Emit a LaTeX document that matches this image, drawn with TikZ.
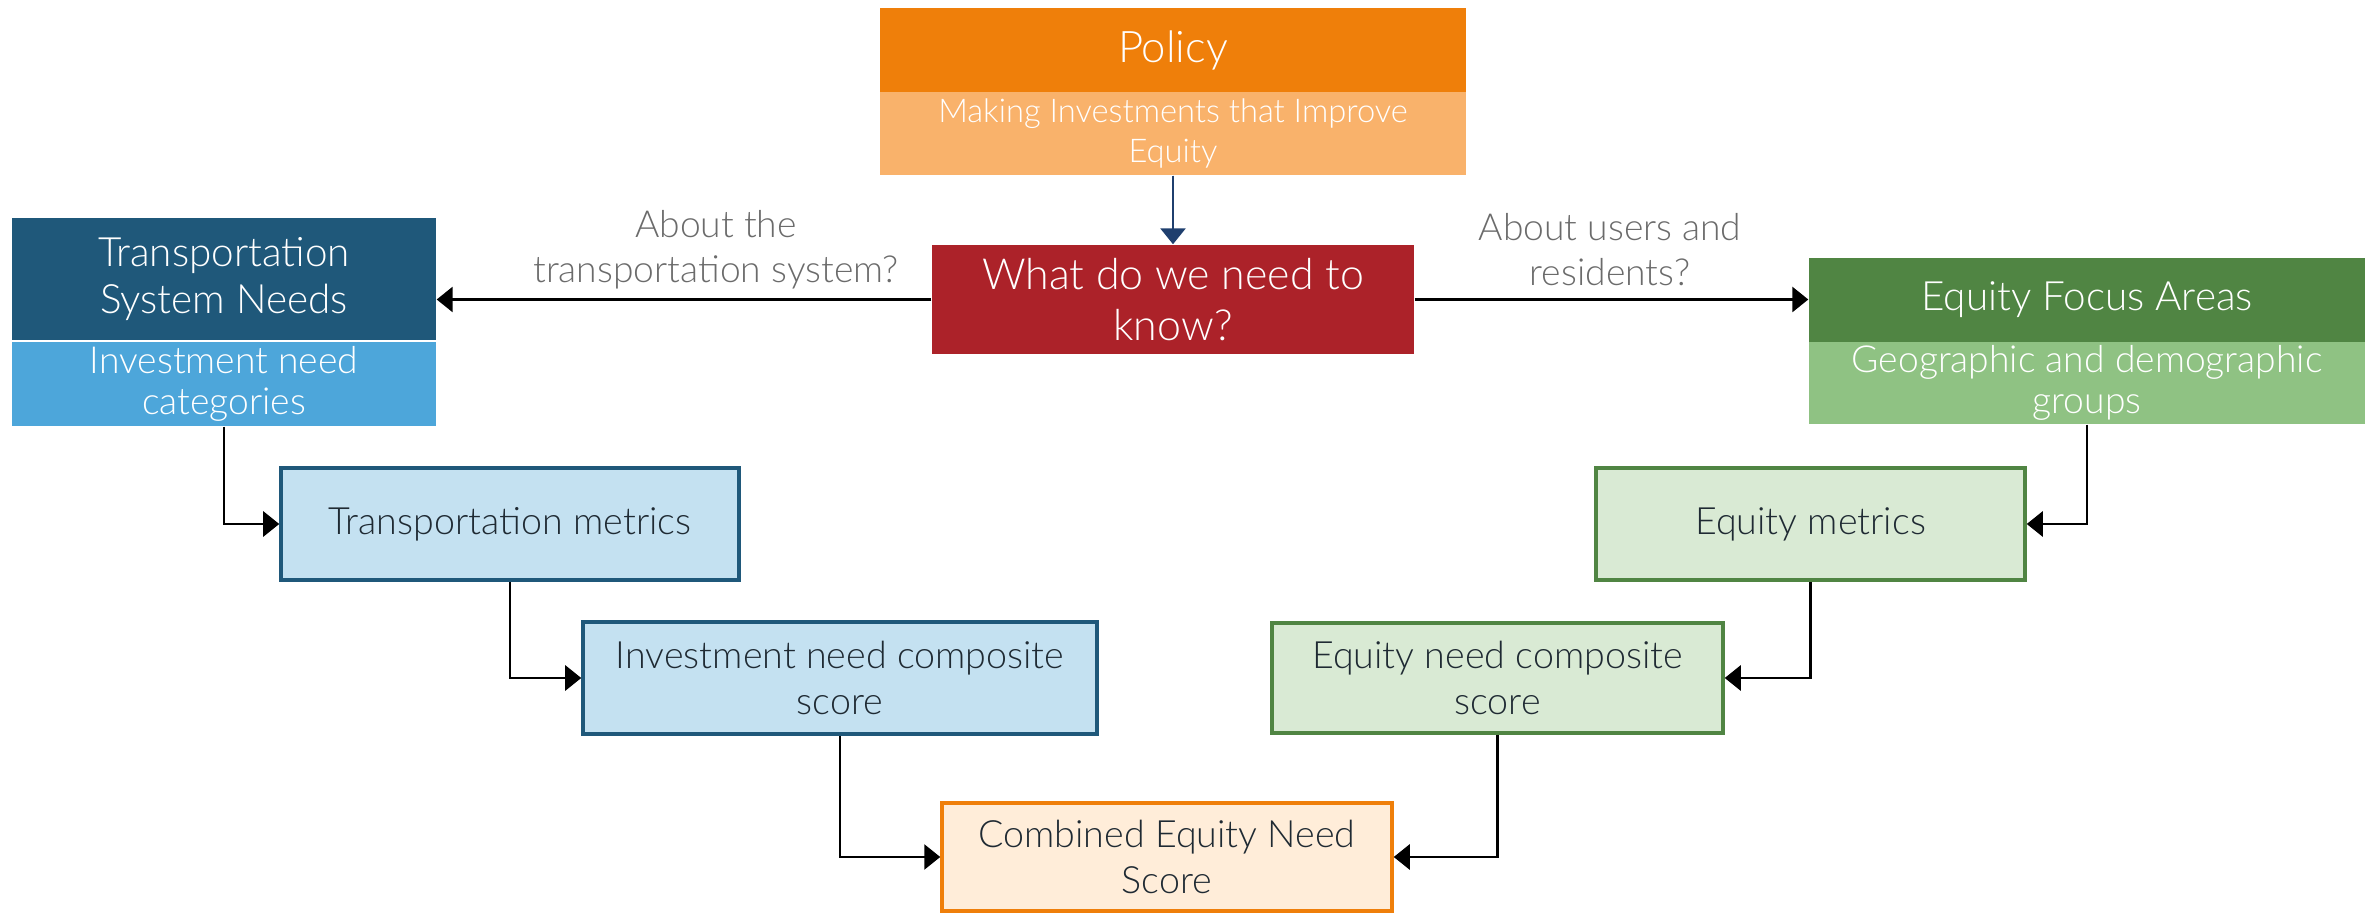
\documentclass[tikz,border=0pt]{standalone}
\usepackage{fontspec}
\setmainfont{Lato}[UprightFont={* Light}]
\usepackage{xcolor}
\usetikzlibrary{positioning,shapes,arrows.meta,calc}

\definecolor{policyorange}{HTML}{EF7F0A}
\definecolor{policylight}{HTML}{F9B26B}
\definecolor{knowred}{HTML}{AC2229}
\definecolor{transblue}{HTML}{1F587A}
\definecolor{translight}{HTML}{4DA6DA}
\definecolor{transpale}{HTML}{C4E1F1}
\definecolor{equitygreen}{HTML}{508543}
\definecolor{equitylight}{HTML}{8FC283}
\definecolor{equitypale}{HTML}{D9EAD4}
\definecolor{combinedpale}{HTML}{FFEDD9}
\definecolor{navyarrow}{HTML}{1F3F6E}
\definecolor{labelgray}{HTML}{6B6B6B}
\definecolor{inkdark}{HTML}{1F2A33}

\begin{document}
\begin{tikzpicture}[
    header/.style={inner sep=0pt, align=center, text=white},
    metricbox/.style={draw, line width=1pt, inner sep=0pt, align=center,
        text=inkdark, font=\fontsize{10.7}{13}\selectfont},
    flow/.style={line width=0.8pt, -{Triangle[width=2.5mm,length=1.6mm]}},
    question/.style={align=center, text=labelgray, font=\fontsize{10.6}{12.8}\selectfont}
]
    % Canvas
    \useasboundingbox (0,0) rectangle (23.72,-9.13);

    % Policy
    \node[header, fill=policyorange, minimum width=5.86cm, minimum height=0.84cm,
        font=\fontsize{12.4}{14.5}\selectfont] (policy) at (11.73,-0.50) {Policy};
    \node[header, fill=policylight, minimum width=5.86cm, minimum height=0.83cm,
        font=\fontsize{9.3}{11.2}\selectfont] (policydesc) at (11.73,-1.335)
        {Making Investments that Improve\\Equity};

    % Central question
    \node[header, fill=knowred, minimum width=4.82cm, minimum height=1.09cm,
        font=\fontsize{12.2}{14.4}\selectfont] (know) at (11.73,-2.995)
        {What do we need to\\know?};

    % Transportation side
    \node[header, fill=transblue, minimum width=4.24cm, minimum height=1.22cm,
        font=\fontsize{11.5}{13.4}\selectfont] (tsn) at (2.24,-2.79)
        {Transportation\\System Needs};
    \node[header, fill=translight, minimum width=4.24cm, minimum height=0.84cm,
        font=\fontsize{10.6}{11.6}\selectfont] (tsndesc) at (2.24,-3.84)
        {Investment need\\categories};
    \node[metricbox, draw=transblue, fill=transpale, minimum width=4.58cm,
        minimum height=1.12cm] (tmetrics) at (5.10,-5.24) {Transportation metrics};
    \node[metricbox, draw=transblue, fill=transpale, minimum width=5.14cm,
        minimum height=1.12cm] (incs) at (8.40,-6.78)
        {Investment need composite\\score};

    % Equity side
    \node[header, fill=equitygreen, minimum width=5.56cm, minimum height=0.84cm,
        font=\fontsize{11.5}{13.4}\selectfont] (efa) at (20.87,-3.00)
        {Equity Focus Areas};
    \node[header, fill=equitylight, minimum width=5.56cm, minimum height=0.82cm,
        font=\fontsize{10.6}{11.6}\selectfont] (efadesc) at (20.87,-3.83)
        {Geographic and demographic\\groups};
    \node[metricbox, draw=equitygreen, fill=equitypale, minimum width=4.29cm,
        minimum height=1.12cm] (emetrics) at (18.105,-5.24) {Equity metrics};
    \node[metricbox, draw=equitygreen, fill=equitypale, minimum width=4.51cm,
        minimum height=1.10cm] (encs) at (14.975,-6.78)
        {Equity need composite\\score};

    % Result
    \node[metricbox, draw=policyorange, fill=combinedpale, minimum width=4.50cm,
        minimum height=1.08cm] (combined) at (11.67,-8.57)
        {Combined Equity Need\\Score};

    % Questions
    \node[question] (asksys) at (7.16,-2.50) {About the\\transportation system?};
    \node[question] (askusers) at (16.10,-2.50) {About users and\\residents?};

    % Connectors
    \draw[flow, draw=navyarrow, fill=navyarrow] (policydesc.south) -- (know.north);
    \draw[flow] (know.west) -- (know.west -| tsn.east);
    \draw[flow] (know.east) -- (know.east -| efa.west);
    \draw[flow] (tsndesc.south) |- (tmetrics.west);
    \draw[flow] (tmetrics.south) |- (incs.west);
    \draw[flow] (incs.south) |- (combined.west);
    \draw[flow] (efadesc.south) |- (emetrics.east);
    \draw[flow] (emetrics.south) |- (encs.east);
    \draw[flow] (encs.south) |- (combined.east);
\end{tikzpicture}
\end{document}
